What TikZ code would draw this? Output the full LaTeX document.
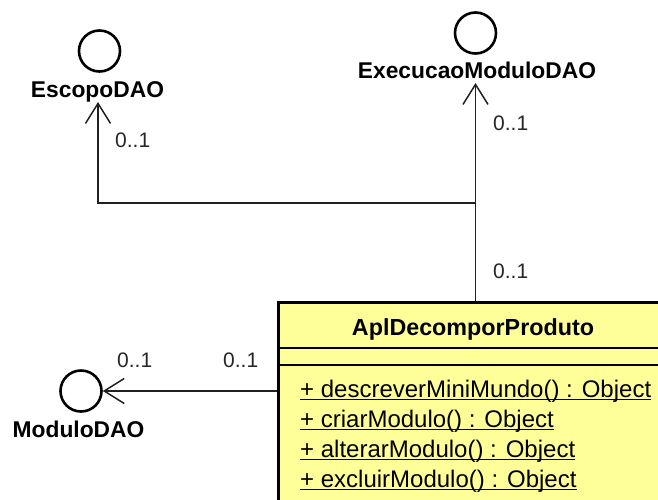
\documentclass[tikz,border=0pt]{standalone}
\usepackage{fontspec}
\setmainfont{Liberation Sans}
\usetikzlibrary{arrows.meta}
\definecolor{classfill}{HTML}{FFFF99}
\definecolor{linegray}{HTML}{202020}
% underlined operation text with a rule of fixed thickness
\newcommand{\opline}[1]{\setbox0\hbox{#1}\rlap{\rule[-3.2pt]{\wd0}{1.6pt}}\box0}
\begin{document}
\begin{tikzpicture}[x=1pt,y=-1pt,
  iface/.style={circle, draw, line width=2.6pt, minimum size=41pt, inner sep=0pt},
  ifacelabel/.style={font=\fontsize{22.8}{27}\selectfont\bfseries, inner sep=0pt, anchor=base},
  mult/.style={font=\fontsize{21}{25}\selectfont, text=black!85, inner sep=0pt, anchor=base west},
  assoc/.style={line width=1.5pt, draw=linegray},
  navi/.style={-{Straight Barb[length=20pt,width=25pt]}},
  classbox/.style={draw, line width=2.6pt, fill=classfill, inner sep=0pt, anchor=north west},
  opstyle/.style={font=\fontsize{24}{29}\selectfont, inner sep=0pt, anchor=base west}]
\useasboundingbox (0,0) rectangle (658,499);
\clip (0,0) rectangle (658,499);

% interfaces
\node[iface] (esc) at (99.5,51) {};
\node[iface] (exe) at (475.5,33) {};
\node[iface] (mod) at (81,391) {};
\node[ifacelabel] (escl) at (97.5,97) {EscopoDAO};
\node[ifacelabel] (exel) at (477,78) {ExecucaoModuloDAO};
\node[ifacelabel] (modl) at (78.5,437) {ModuloDAO};

% class
\node[classbox, minimum width=460pt, minimum height=270pt] (cls) at (277,301) {};
\node[font=\fontsize{23.3}{28}\selectfont\bfseries, inner sep=0pt, anchor=base] (clsname) at (473,335) {AplDecomporProduto};
\coordinate (sepA) at (0,348);
\coordinate (sepB) at (0,365);
\draw[line width=1.5pt] (cls.west |- sepA) -- (cls.east |- sepA);
\draw[line width=1.5pt] (cls.west |- sepB) -- (cls.east |- sepB);
\node[opstyle] (op1) at (300,397) {\opline{+ descreverMiniMundo() : Object}};
\node[opstyle] (op2) at (300,427) {\opline{+ criarModulo() : Object}};
\node[opstyle] (op3) at (300,457) {\opline{+ alterarModulo() : Object}};
\node[opstyle] (op4) at (300,487) {\opline{+ excluirModulo() : Object}};

% associations
\coordinate (exeTip) at (475.5,83);
\coordinate (escTip) at (98,102);
\coordinate (join) at (475.5,203);
\draw[assoc, navi] (exe |- cls.north) -- (exeTip);
\draw[assoc, navi] (join) -| (escTip);
\draw[assoc, navi] (cls.west |- mod) -- (mod.east);

% multiplicities
\node[mult] (m1) at (115,147) {0..1};
\node[mult] (m2) at (493,130) {0..1};
\node[mult] (m3) at (493,278) {0..1};
\node[mult] (m4) at (117,367) {0..1};
\node[mult] (m5) at (223,367) {0..1};
\end{tikzpicture}
\end{document}
